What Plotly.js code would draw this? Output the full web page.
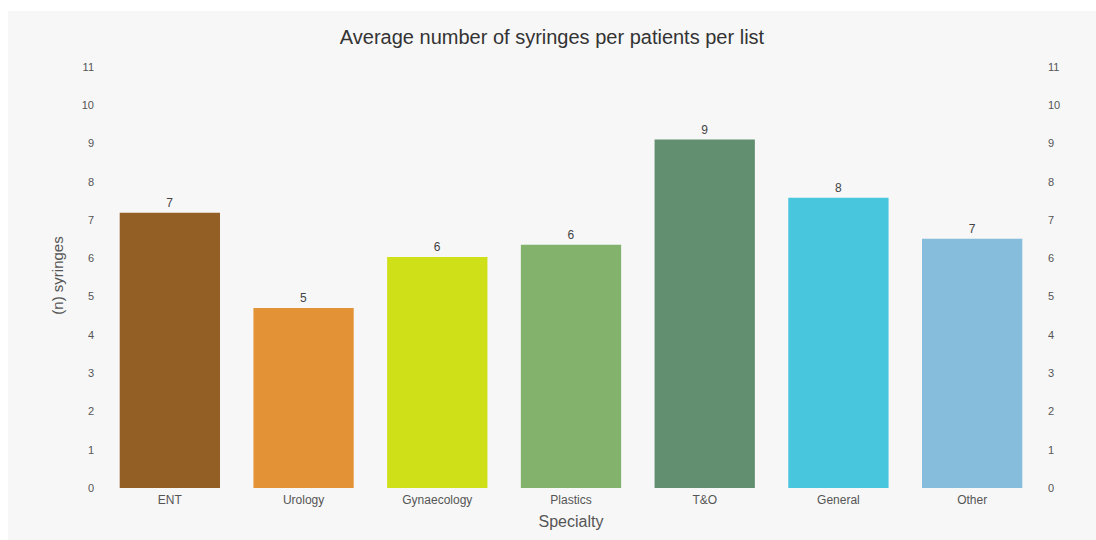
<!DOCTYPE html>
<html>
<head>
<meta charset="utf-8">
<script src="https://cdn.plot.ly/plotly-3.0.1.min.js"></script>
<style>
html,body{margin:0;padding:0;background:#ffffff;width:1096px;height:540px;overflow:hidden;}
#chart{position:absolute;left:8px;top:11px;width:1088px;height:529px;}
</style>
</head>
<body>
<div id="chart"></div>
<script>
const categories = ["ENT", "Urology", "Gynaecology", "Plastics", "T&O", "General", "Other"];
const values = [7.19, 4.70, 6.03, 6.35, 9.10, 7.58, 6.51];
const barColors = ["#935f24", "#e39236", "#cfdf18", "#82b26c", "#628f6f", "#48c6de", "#86bcdc"];
const yTicks = [0,1,2,3,4,5,6,7,8,9,10,11];

const trace = {
  type: "bar",
  x: categories,
  y: values,
  marker: {color: barColors},
  width: 0.75,
  texttemplate: "%{y:.0f}",
  textposition: "outside",
  outsidetextfont: {family: "Liberation Sans, Arial, sans-serif", size: 12, color: "#444"},
  cliponaxis: false,
  hoverinfo: "x+y"
};

const yRange = [0, 11.1];
const layout = {
  width: 1088,
  height: 529,
  paper_bgcolor: "#f7f7f7",
  plot_bgcolor: "#f7f7f7",
  margin: {l: 95, r: 57, t: 52, b: 52},
  font: {family: "Liberation Sans, Arial, sans-serif", color: "#444"},
  title: {text: "Average number of syringes per patients per list", x: 0.5, xanchor: "center", y: 0.95, yanchor: "middle", yref: "container",
          font: {size: 20, color: "#333"}},
  showlegend: false,
  bargap: 0.25,
  xaxis: {
    title: {text: "Specialty", font: {size: 16, color: "#555"}, standoff: 9},
    tickfont: {size: 12, color: "#555"},
    ticklabelstandoff: 3,
    showgrid: false, zeroline: false, showline: false, ticks: "",
    range: [-0.5, 6.5]
  },
  yaxis: {
    title: {text: "(n) syringes", font: {size: 15, color: "#555"}, standoff: 14},
    range: yRange,
    tickvals: yTicks,
    tickfont: {size: 11, color: "#555"},
    ticklabelstandoff: 8,
    showgrid: false, zeroline: false, showline: false, ticks: ""
  },
  yaxis2: {
    overlaying: "y",
    side: "right",
    range: yRange,
    tickvals: yTicks,
    tickfont: {size: 11, color: "#555"},
    ticklabelstandoff: 8,
    showgrid: false, zeroline: false, showline: false, ticks: ""
  }
};

const dummy = {type: "scatter", x: [categories[0]], y: [0], yaxis: "y2", mode: "markers", marker: {opacity: 0}, hoverinfo: "skip", showlegend: false};

Plotly.newPlot("chart", [trace, dummy], layout, {displayModeBar: false, staticPlot: true});
</script>
</body>
</html>
